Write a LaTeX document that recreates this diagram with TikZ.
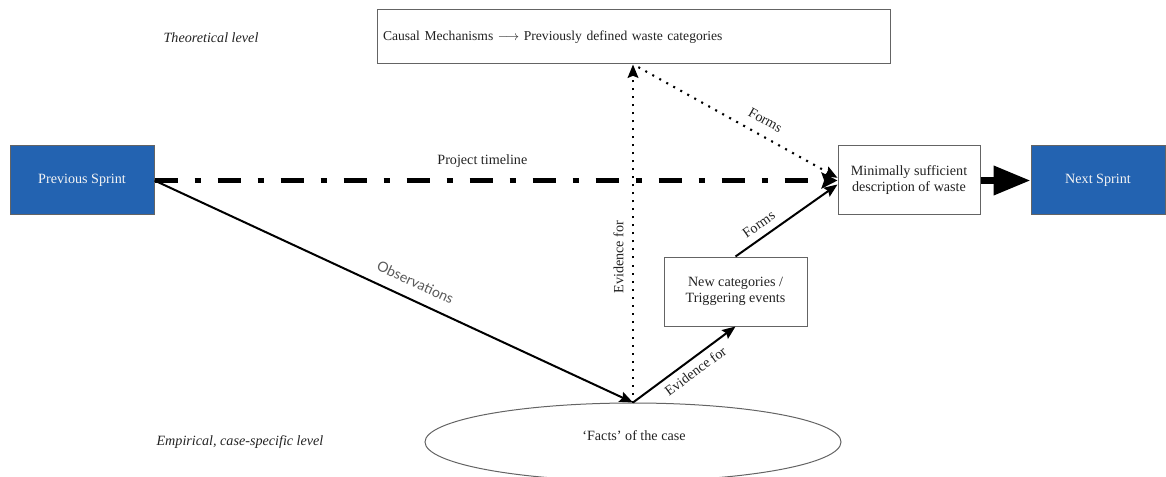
\documentclass[tikz,border=0pt]{standalone}
\usepackage{fontspec}
\setmainfont{Liberation Serif}
\newfontfamily\labelsans{Lato}
\usetikzlibrary{arrows.meta,shapes.geometric}
\definecolor{sprintblue}{RGB}{35,99,177}
\definecolor{ink}{RGB}{34,34,34}
\definecolor{boxline}{RGB}{100,100,100}
\tikzset{
  plainbox/.style={draw=boxline, line width=0.75pt, fill=white, text=ink,
    align=center, font=\fontsize{10.6}{12}\selectfont},
  sprintbox/.style={draw=boxline, line width=0.75pt, fill=sprintblue,
    text=white!92!gray, align=center, minimum width=#1, minimum height=51.75pt,
    font=\fontsize{10.6}{12}\selectfont},
  levellabel/.style={text=ink, font=\itshape\fontsize{10.6}{12}\selectfont},
  lbl/.style={text=ink, font=\fontsize{10.6}{12}\selectfont},
  flow/.style={line width=1.5pt, draw=black, -{Stealth[length=10pt,width=8pt,inset=1.5pt]}},
  dotflow/.style={line width=1.6pt, draw=black, dash pattern=on 1.5pt off 4.5pt,
    -{Stealth[length=10pt,width=8pt,inset=1.5pt]}},
  timeline/.style={line width=4pt, draw=black,
    dash pattern=on 17.25pt off 12.75pt on 4.5pt off 12.75pt,
    -{Stealth[length=12pt,width=12pt,inset=2pt]}},
  bigflow/.style={line width=5.25pt, draw=black, -{Triangle[length=27.75pt,width=21pt]}}
}
\begin{document}
\begin{tikzpicture}[x=0.75pt,y=-0.75pt]
  \useasboundingbox (0,0) rectangle (1166,477);

  % level captions
  \node[levellabel] (theo) at (211,38) {Theoretical level};
  \node[levellabel] (emp) at (240,442) {Empirical, case-specific level};

  % theory box
  \node[plainbox, minimum width=384.75pt, minimum height=40.5pt,
        text width=375.75pt, align=left, font=\fontsize{10.2}{12}\selectfont] (causal) at (633.5,37)
        {Causal Mechanisms $\longrightarrow$ Previously defined waste categories};

  % sprints and intermediate boxes
  \node[sprintbox=108pt] (prev) at (82,180.5) {Previous Sprint};
  \node[sprintbox=100.5pt] (next) at (1098,180.5) {Next Sprint};
  \node[plainbox, minimum width=106.5pt, minimum height=51.75pt] (minimal) at (909,180.5)
        {Minimally sufficient\\description of waste};
  \node[plainbox, minimum width=107.25pt, minimum height=51.75pt] (newcat) at (735.5,291.5)
        {New categories /\\Triggering events};

  % empirical facts
  \node[draw=boxline, line width=0.75pt, ellipse, minimum width=312pt, minimum height=58.5pt,
        inner sep=0pt] (facts) at (633,442) {};
  \node[lbl] (factstext) at (634,436) {‘Facts’ of the case};

  \coordinate (top) at (facts.north |- causal.south);

  % project timeline
  \draw[timeline] (prev.east) -- (minimal.west)
    node[lbl, pos=0.48, above=4.5pt] (tl) {Project timeline};

  % observations
  \draw[flow] (prev.east) -- (facts.north)
    node[pos=0.53, sloped, above=5pt, text=gray!70!black,
         font=\labelsans\fontsize{10.6}{12}\selectfont] (obs) {Observations};

  % evidence links
  \draw[dotflow] (facts.north) -- (top)
    node[lbl, pos=0.43, sloped, above=3pt] (ev1) {Evidence for};
  \draw[flow] (facts.north) -- (newcat.south)
    node[lbl, pos=0.54, sloped, below=1pt] (ev2) {Evidence for};

  % forming the description
  \draw[flow] (newcat.north) -- ([yshift=-3pt]minimal.west)
    node[lbl, pos=0.3, sloped, above=2pt] (f1) {Forms};
  \draw[dotflow] ([xshift=4pt,yshift=-2pt]top) -- ([yshift=2pt]minimal.west)
    node[lbl, pos=0.6, sloped, above=4pt] (f2) {Forms};

  % hand-over to the next sprint
  \draw[bigflow] (minimal.east) -- (next.west);
\end{tikzpicture}
\end{document}
